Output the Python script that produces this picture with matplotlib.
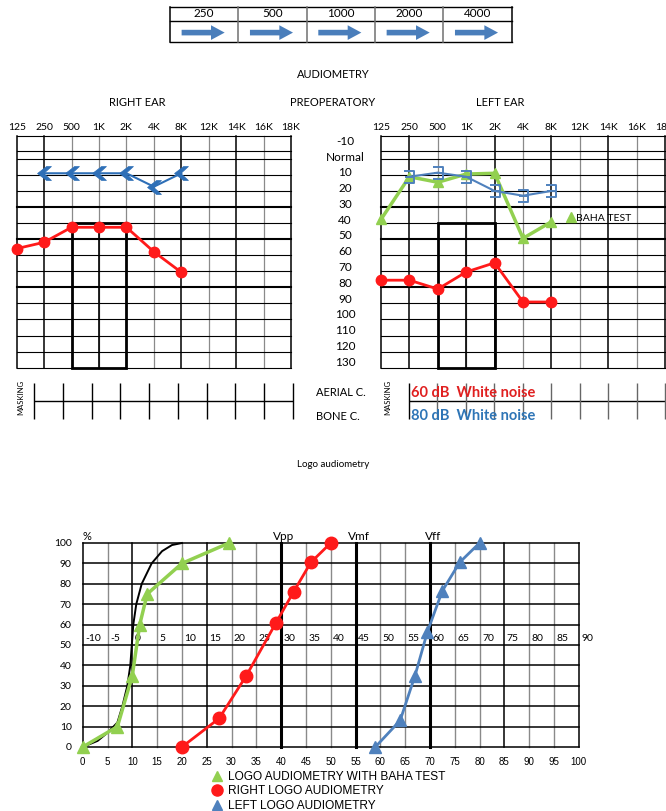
import numpy as np
import matplotlib.pyplot as plt
from matplotlib.patches import Rectangle
from matplotlib.path import Path
from matplotlib.lines import Line2D

plt.rcParams['font.family'] = ['Lato', 'DejaVu Sans']

W, H = 666, 811

# ---- data ----
table_freqs = ['250', '500', '1000', '2000', '4000']

freq_labels = ['125', '250', '500', '1K', '2K', '4K', '8K', '12K', '14K', '16K', '18K']
db_labels = ['-10', 'Normal', '10', '20', '30', '40', '50', '60', '70', '80',
             '90', '100', '110', '120', '130']
db_label_pos = [-10, 0, 10, 20, 30, 40, 50, 60, 70, 80, 90, 100, 110, 120, 130]

# right ear
right_ac_idx = [0, 1, 2, 3, 4, 5, 6]
right_ac_db = [58, 54, 44.5, 44.5, 44.5, 60, 73]
right_bc_idx = [1, 2, 3, 4, 5, 6]
right_bc_db = [10.3, 10.3, 10.3, 10.3, 18.8, 10.3]

# left ear
left_ac_idx = [0, 1, 2, 3, 4, 5, 6]
left_ac_db = [78, 78, 83.6, 72.8, 67, 91.8, 91.8]
left_bc_idx = [1, 2, 3, 4, 5, 6]
left_bc_db = [12.5, 9.9, 12.5, 21.5, 24.5, 21.5]
baha_idx = [0, 1, 2, 3, 4, 5, 6]
baha_db = [39.5, 12.5, 16, 10.8, 10.3, 51.5, 41]

# logo audiometry
logo_x_ticks = list(range(0, 101, 5))
logo_y_ticks = list(range(0, 101, 10))
normal_x = [0, 3, 5, 7, 8, 9, 9.6, 9.9, 10.2, 10.8, 11.9, 13.9, 16, 18, 20]
normal_y = [0, 3, 7, 12, 20, 30, 40, 50, 60, 70, 80, 90, 96, 99, 100]
baha_logo_x = [0, 7, 10, 11.5, 13, 20, 29.5]
baha_logo_y = [0, 10, 35, 60, 75, 90, 100]
right_logo_x = [20, 27.5, 33, 39, 42.5, 46, 50]
right_logo_y = [0, 14, 35, 61, 76, 90.5, 100]
left_logo_x = [59, 64, 67, 69.5, 72.5, 76, 80]
left_logo_y = [0, 13, 35, 56.5, 76.5, 90.5, 100]
v_marks = [40, 55, 70]
v_names = ['Vpp', 'Vmf', 'Vff']

# ---- layout helpers ----
GRID_ROWS = [-13.3, -3.8, 1.3, 11.4, 21.5, 31.7, 41.8, 51.9, 62.1, 72.2,
             82.3, 92.5, 102.6, 113.4, 123.5, 133.6]
THICK_ROWS = [31.7, 51.9, 82.3]
BOX_TOP = 41.8

RED = '#ff1a1a'
GREEN = '#92d050'
BLUE_R = '#2e6fb7'
BLUE_L = '#4f81bd'

fig = plt.figure(figsize=(W / 100, H / 100), dpi=100)


def px_box(x0, y0, x1, y1):
    return [x0 / W, 1 - y1 / H, (x1 - x0) / W, (y1 - y0) / H]


def fig_text(x, y, s, **kw):
    fig.text(x / W, 1 - y / H, s, **kw)


def audiogram_grid(ax, dark_cols):
    ax.set_xlim(0, 10)
    ax.set_ylim(GRID_ROWS[-1], GRID_ROWS[0])
    for i in range(11):
        dark = i in dark_cols
        ax.axvline(i, color='black' if dark else '#8a8a8a',
                   lw=1.1 if dark else 0.9, clip_on=False, zorder=1)
    for r in GRID_ROWS:
        ax.axhline(r, color='black', lw=1.5 if r in THICK_ROWS else 0.8,
                   clip_on=False, zorder=1)
    ax.add_patch(Rectangle((2, BOX_TOP), 2, GRID_ROWS[-1] - BOX_TOP,
                           fill=False, ec='black', lw=2, zorder=2, clip_on=False))
    ax.vlines(3, BOX_TOP, GRID_ROWS[-1], color='black', lw=1.2, zorder=2)
    ax.set_xticks(range(11))
    ax.set_xticklabels(freq_labels, fontsize=7.5)
    ax.xaxis.tick_top()
    ax.tick_params(axis='x', length=0, pad=3)
    ax.set_yticks([])
    for s in ax.spines.values():
        s.set_visible(False)


# ---- top table ----
ax_t = fig.add_axes(px_box(170, 6.7, 511.7, 41.7))
ax_t.set_xlim(0, 5)
ax_t.set_ylim(1, 0)
ax_t.axis('off')
for yy in (0, 0.4, 1):
    ax_t.axhline(yy, color='black', lw=1, clip_on=False)
for i in range(6):
    ax_t.axvline(i, color='black' if i in (0, 5) else '#707070', lw=1.1, clip_on=False)
for i, f in enumerate(table_freqs):
    ax_t.text(i + 0.5, 0.2, f, ha='center', va='center', fontsize=8.5)
    ax_t.arrow(i + 0.17, 0.74, 0.63, 0, width=0.16, head_width=0.42,
               head_length=0.2, length_includes_head=True, fc='#4a7ebb', ec='none')

# ---- titles ----
fig_text(333, 75, 'AUDIOMETRY', ha='center', va='center', fontsize=8)
fig_text(137, 103, 'RIGHT EAR', ha='center', va='center', fontsize=8)
fig_text(333, 103, 'PREOPERATORY', ha='center', va='center', fontsize=8)
fig_text(500, 103, 'LEFT EAR', ha='center', va='center', fontsize=8)

# ---- audiograms ----
bc_right_marker = Path([(-1, 0), (0.3, 1), (1, 1), (-0.1, 0), (1, -1), (0.3, -1), (-1, 0)],
                       [Path.MOVETO, Path.LINETO, Path.LINETO, Path.LINETO,
                        Path.LINETO, Path.LINETO, Path.CLOSEPOLY])
bc_left_marker = Path([(-0.9, 1), (0.9, 1), (0.9, -1), (-0.9, -1), (-0.6, 0), (0.9, 0)],
                      [Path.MOVETO, Path.LINETO, Path.LINETO, Path.LINETO,
                       Path.MOVETO, Path.LINETO])

ax_r = fig.add_axes(px_box(16.7, 136, 291, 368))
audiogram_grid(ax_r, (0, 1, 6, 8, 10))
ax_r.plot(right_bc_idx, right_bc_db, color=BLUE_R, lw=1.5, marker=bc_right_marker,
          ms=10, mfc=BLUE_R, mec=BLUE_R, mew=0.5, zorder=4, clip_on=False)
ax_r.plot(right_ac_idx, right_ac_db, color=RED, lw=2, marker='o', ms=7.5,
          zorder=5, clip_on=False)

ax_l = fig.add_axes(px_box(381, 136, 665, 368))
audiogram_grid(ax_l, (0, 1, 4, 6, 8, 10))
ax_l.plot(baha_idx, baha_db, color=GREEN, lw=2.5, marker='^', ms=6.5,
          zorder=4, clip_on=False)
ax_l.plot(left_bc_idx, left_bc_db, color=BLUE_L, lw=1.5, marker=bc_left_marker,
          ms=8.5, mfc='none', mec=BLUE_L, mew=1.4, zorder=5, clip_on=False)
ax_l.plot(left_ac_idx, left_ac_db, color=RED, lw=2, marker='o', ms=7.5,
          zorder=5, clip_on=False)
for lab, pos in zip(db_labels, db_label_pos):
    ax_l.text(-0.127, pos, lab, transform=ax_l.get_yaxis_transform(),
              ha='center', va='center', fontsize=8.5)
ax_l.legend([Line2D([], [], color=GREEN, marker='^', ls='none', ms=6.5)], ['BAHA TEST'],
            loc='center left', bbox_to_anchor=(568 / W, 1 - 218 / H),
            bbox_transform=fig.transFigure, frameon=False, fontsize=7.5,
            handlelength=0.6, handletextpad=0.2, borderpad=0, borderaxespad=0)

# ---- masking rows ----
ax_mr = fig.add_axes(px_box(34, 383, 293, 419))
ax_mr.set_xlim(0, 9)
ax_mr.set_ylim(0, 1)
ax_mr.axis('off')
ax_mr.hlines(0.5, 0, 9, color='black', lw=1, clip_on=False)
ax_mr.vlines(range(10), 0, 1, color='black', lw=1, clip_on=False)

ax_ml = fig.add_axes(px_box(409, 383, 665, 419))
ax_ml.set_xlim(0, 9)
ax_ml.set_ylim(0, 1)
ax_ml.axis('off')
ax_ml.hlines(0.5, 0, 9, color='black', lw=1, clip_on=False)
ax_ml.vlines(range(10), 0, 1, color=['black'] + ['#666666'] * 9, lw=1, clip_on=False)

fig_text(21, 397, 'MASKING', rotation=90, ha='center', va='center', fontsize=5.5)
fig_text(388, 397, 'MASKING', rotation=90, ha='center', va='center', fontsize=5.5)
fig_text(316, 393, 'AERIAL C.', ha='left', va='center', fontsize=8)
fig_text(316, 416, 'BONE C.', ha='left', va='center', fontsize=8)
fig_text(411, 393, '60 dB  White noise', ha='left', va='center', fontsize=10.5,
         fontweight='bold', color='#e02020')
fig_text(411, 416, '80 dB  White noise', ha='left', va='center', fontsize=10.5,
         fontweight='bold', color='#2e75b6')

# ---- logo audiometry ----
fig_text(333, 465, 'Logo audiometry', ha='center', va='center', fontsize=7)

ax_g = fig.add_axes(px_box(82.7, 543, 578.7, 747))
ax_g.set_xlim(0, 100)
ax_g.set_ylim(0, 100)
for v in logo_x_ticks:
    if v in v_marks:
        ax_g.axvline(v, color='black', lw=2.2, clip_on=False, zorder=1)
    elif v % 15 == 10 or v == 0:
        ax_g.axvline(v, color='black', lw=1.1, clip_on=False, zorder=1)
    else:
        ax_g.axvline(v, color='#8a8a8a', lw=1, clip_on=False, zorder=1)
for p in logo_y_ticks:
    ax_g.axhline(p, color='black', lw=1.1, clip_on=False, zorder=1)
for s in ax_g.spines.values():
    s.set_visible(False)

ax_g.set_xticks(logo_x_ticks)
ax_g.set_xticklabels([str(v) for v in logo_x_ticks], fontsize=7, family='Liberation Sans')
ax_g.set_yticks(logo_y_ticks)
ax_g.set_yticklabels([str(p) for p in logo_y_ticks], fontsize=7.5)
ax_g.tick_params(length=0)
ax_g.tick_params(axis='x', pad=7)
ax_g.tick_params(axis='y', pad=8)

for v in logo_x_ticks:
    ax_g.text(v + 0.5, 53.4, str(v - 10), ha='left', va='center', fontsize=7.5)
for v, name in zip(v_marks, v_names):
    ax_g.text(v + 0.6, 100.4, name, ha='center', va='bottom', fontsize=8.5)
ax_g.text(0, 100.4, '%', ha='left', va='bottom', fontsize=8)

ax_g.plot(normal_x, normal_y, color='black', lw=1.4, zorder=3, clip_on=False)
ax_g.plot(baha_logo_x, baha_logo_y, color=GREEN, lw=2.5, marker='^', ms=8,
          zorder=4, clip_on=False)
ax_g.plot(right_logo_x, right_logo_y, color=RED, lw=2, marker='o', ms=9,
          zorder=4, clip_on=False)
ax_g.plot(left_logo_x, left_logo_y, color=BLUE_L, lw=2, marker='^', ms=8,
          zorder=4, clip_on=False)

handles = [Line2D([], [], color=GREEN, marker='^', ls='none', ms=7.5),
           Line2D([], [], color=RED, marker='o', ls='none', ms=8),
           Line2D([], [], color=BLUE_L, marker='^', ls='none', ms=7)]
fig.legend(handles, ['LOGO AUDIOMETRY WITH BAHA TEST', 'RIGHT LOGO AUDIOMETRY',
                     'LEFT LOGO AUDIOMETRY'],
           loc='upper left', bbox_to_anchor=(212 / W, 1 - 771 / H),
           frameon=False, prop={'family': 'Liberation Sans', 'size': 8.6},
           handlelength=0.9, handletextpad=0.45, labelspacing=0.2,
           borderpad=0, borderaxespad=0)

fig.savefig('out.png', dpi=100)
